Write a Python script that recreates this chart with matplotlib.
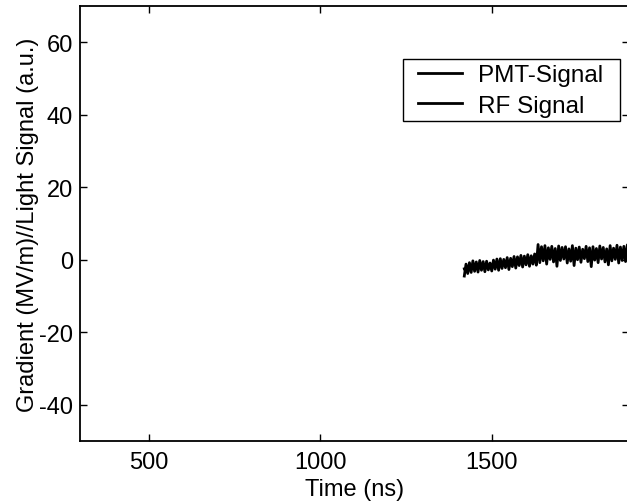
import matplotlib
matplotlib.use("Agg")
import matplotlib.pyplot as plt
from matplotlib.patches import Rectangle

plt.rcParams['font.family'] = ['Liberation Sans', 'DejaVu Sans']
plt.rcParams['axes.unicode_minus'] = False

# PMT signal samples (ns, a.u.)
pmt_t = list(range(1420, 1905, 5))
pmt_v = [-4.5, -1.2, -3.8, -0.8, -3.5, -0.3, -3.2, -0.6, -3.4, -0.2,
         -2.9, -0.5, -3.3, -0.4, -2.8, -0.9, -3.1, -0.1, -2.6, 0.2,
         -2.9, 0.3, -2.4, 0.1, -2.2, 0.6, -2.7, 0.4, -1.9, 0.9,
         -2.3, 0.8, -1.6, 1.2, -2.0, 1.0, -1.4, 1.4, -1.8, 1.1,
         -1.2, 1.6, -1.5, 4.2, -0.8, 3.6, -0.3, 3.9, -1.2, 3.3,
         0.1, 3.7, -0.6, 3.1, -1.8, 3.8, -0.2, 3.4, 0.2, 3.6,
         -0.9, 3.0, -0.4, 3.9, -1.6, 3.2, 0.0, 3.5, -0.7, 2.9,
         0.3, 3.7, -0.5, 3.3, -1.9, 3.6, -0.1, 3.1, -0.8, 3.8,
         0.2, 3.4, -0.6, 3.0, -1.4, 3.9, -0.3, 3.2, 0.1, 4.0,
         -0.9, 3.5, -0.2, 3.7, -0.5, 4.1, 0.0]

# RF signal samples (ns, MV/m)
rf_t = list(range(1420, 1920, 20))
rf_v = [-2.5, -2.0, -1.8, -1.7, -1.5, -1.3, -1.0, -0.8, -0.5, -0.3,
        -0.2, 1.8, 1.7, 1.6, 1.8, 1.7, 1.5, 1.8, 1.6, 1.7,
        1.8, 1.6, 1.7, 1.9, 1.7]

x_ticks = [500, 1000, 1500]
y_ticks = [-40, -20, 0, 20, 40, 60]

W, H = 627, 502
fig = plt.figure(figsize=(W/100, H/100), dpi=100)
ax = fig.add_axes([80/W, 1-442/H, 549/W, 435/H])

ax.plot(pmt_t, pmt_v, color='black', lw=2.0, label='PMT-Signal')
ax.plot(rf_t, rf_v, color='black', lw=2.0, label='RF Signal')

ax.set_xlim(300, 1900)
ax.set_ylim(-50, 70)
ax.set_xticks(x_ticks)
ax.set_yticks(y_ticks)
ax.tick_params(direction='in', length=5, width=1, top=True, right=True,
               labelsize=17, pad=5)
ax.tick_params(axis='x', pad=7)
for s in ax.spines.values():
    s.set_linewidth(1.3)

ax.set_xlabel('Time (ns)', fontsize=17, labelpad=4)
ax.set_ylabel('Gradient (MV/m)//Light Signal (a.u.)', fontsize=17, labelpad=0)

# legend box
box = Rectangle((403/W, 1-122/H), 217/W, 62/H,
                transform=fig.transFigure, facecolor='white',
                edgecolor='black', lw=1.0, zorder=4, clip_on=False)
ax.add_patch(box)
leg = ax.legend(loc='upper left', bbox_to_anchor=(418/W, 1-65/H),
                bbox_transform=fig.transFigure, fontsize=17.5,
                frameon=False, handlelength=1.8, handletextpad=0.66,
                borderpad=0, labelspacing=0.35, borderaxespad=0)
leg.set_zorder(5)
for line in leg.get_lines():
    line.set_linewidth(2.0)

fig.savefig('out.png', dpi=100)
